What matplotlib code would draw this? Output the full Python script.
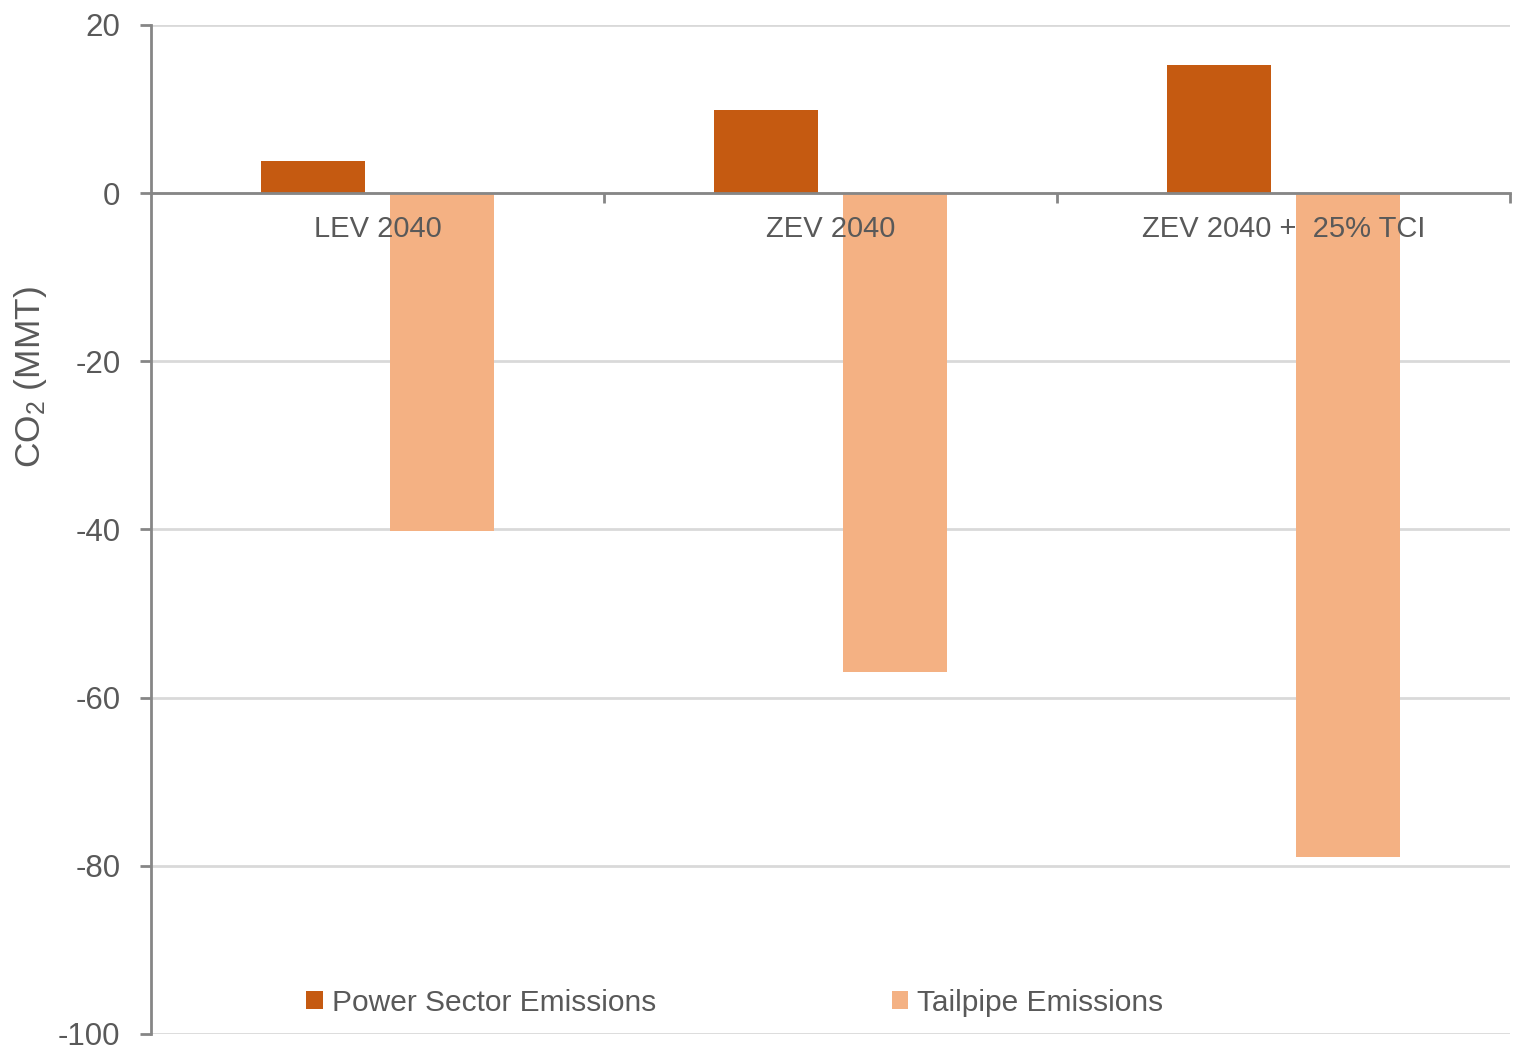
import matplotlib.pyplot as plt
import numpy as np

# Scenario results, change in CO2 (MMT)
scenarios = ["LEV 2040", "ZEV 2040", "ZEV 2040 +  25% TCI"]
power_sector = [3.8, 9.9, 15.2]
tailpipe = [-40.2, -56.9, -79.0]
y_ticks = [20, 0, -20, -40, -60, -80, -100]

plt.rcParams["font.family"] = ["Liberation Sans", "DejaVu Sans"]
plt.rcParams["mathtext.default"] = "regular"
plt.rcParams["axes.unicode_minus"] = False

txt = "#595959"
axis_col = "#868686"
grid_col = "#d9d9d9"

fig = plt.figure(figsize=(15.18, 10.53), dpi=100)
ax = fig.add_axes([0.0995, 0.0181, 0.8952, 0.9582])

x = np.arange(len(scenarios))
w = 0.23
off = 0.142
ax.bar(x - off, power_sector, w, color="#c55a11", label="Power Sector Emissions", zorder=2)
ax.bar(x + off, tailpipe, w, color="#f4b183", label="Tailpipe Emissions", zorder=2)

ax.set_xlim(-0.5, 2.5)
ax.set_ylim(-100, 20)
ax.set_yticks(y_ticks)
ax.set_axisbelow(True)
ax.yaxis.grid(True, color=grid_col, linewidth=2)
# category names sit on top of the bars
ax.xaxis.set_zorder(3)

# x axis sits on the zero line, group separators as ticks
ax.spines["bottom"].set_position(("data", 0))
ax.spines["bottom"].set_color(axis_col)
ax.spines["bottom"].set_linewidth(2)
ax.spines["bottom"].set_zorder(3)
ax.spines["left"].set_color(axis_col)
ax.spines["left"].set_linewidth(2)
ax.spines["top"].set_visible(False)
ax.spines["right"].set_visible(False)

ax.set_xticks([0.5, 1.5, 2.5])
ax.set_xticklabels([])
ax.set_xticks(x, minor=True)
ax.set_xticklabels(scenarios, minor=True)
ax.tick_params(axis="x", which="major", length=7, width=2, color=axis_col)
ax.tick_params(axis="x", which="minor", length=0, pad=16, labelsize=21, labelcolor=txt)
ax.tick_params(axis="y", length=8, width=2, color=axis_col, pad=14,
               labelsize=22.5, labelcolor=txt)

ax.set_ylabel("CO$_2$ (MMT)", fontsize=25.5, color=txt)
ax.yaxis.set_label_coords(-0.075, 0.6506)

leg = ax.legend(loc="center", bbox_to_anchor=(0.4295, 0.031), ncol=2, frameon=False,
                fontsize=21.5, handlelength=0.55, handleheight=0.55, handletextpad=0.3,
                columnspacing=7.9, labelcolor=txt)

fig.savefig("out.png", dpi=100)
